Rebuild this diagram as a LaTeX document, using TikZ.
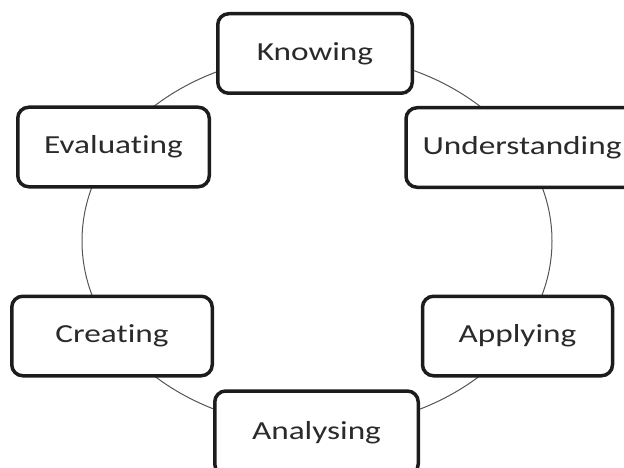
\documentclass[tikz,border=0pt]{standalone}
\usepackage{fontspec}
\newfontfamily\boxfont{Carlito}[FakeStretch=1.28, RawFeature=-liga, RawFeature=-calt, RawFeature=-clig]
\definecolor{boxline}{HTML}{1C1C1C}
\definecolor{ringline}{HTML}{555555}
\definecolor{txt}{HTML}{2A2A2A}
\tikzset{
  stage/.style={draw=boxline, line width=3.5pt, rounded corners=11pt, fill=white,
    minimum height=79.5pt, inner sep=0pt, text=txt,
    font=\boxfont\fontsize{26}{30}\selectfont},
  ring/.style={draw=ringline, line width=1pt}
}
\begin{document}
\begin{tikzpicture}[x=1pt,y=-1pt]
\useasboundingbox (0,0) rectangle (624,468);
\coordinate (c) at (317,241);
\draw[ring] (c) ellipse [x radius=235pt, y radius=187pt];
\node[stage, minimum width=194.5pt] (know) at (315,53.5) {Knowing};
\node[stage, minimum width=232pt] (under) at (522,147.5) {Understanding};
\node[stage, minimum width=190pt] (apply) at (517.5,336) {Applying};
\node[stage, minimum width=203.5pt, minimum height=84pt] (anal) at (316.5,433) {Analysing};
\node[stage, minimum width=200.5pt] (create) at (112,336) {Creating};
\node[stage, minimum width=191.5pt] (eval) at (113.5,147) {Evaluating};
\end{tikzpicture}
\end{document}
